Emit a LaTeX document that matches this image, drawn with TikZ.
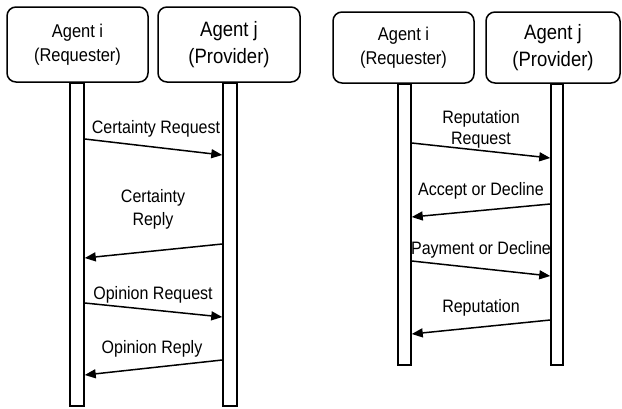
\documentclass[tikz,border=0pt]{standalone}
\usepackage{fontspec}
\setmainfont{Liberation Sans}[FakeStretch=0.89]
\usetikzlibrary{arrows.meta}
\begin{document}
\begin{tikzpicture}[x=1pt,y=-1pt,
 agent/.style={draw, line width=1.5pt, rounded corners=9pt, align=center, inner sep=0pt},
 req/.style={agent, font=\fontsize{18.5}{24}\selectfont},
 prov/.style={agent, font=\fontsize{20.8}{27}\selectfont},
 bar/.style={draw, line width=1.5pt, fill=white, inner sep=0pt},
 msg/.style={line width=1.5pt, -{Triangle[length=11pt,width=9pt]}},
 lbl/.style={font=\fontsize{18}{22}\selectfont, align=center, inner sep=0pt}]
\useasboundingbox (0,0) rectangle (622,408);

% ---------- left diagram ----------
\node[req, minimum width=141pt, minimum height=75pt] (ai) at (77.5,44.5) {Agent i\\(Requester)};
\node[prov, minimum width=142pt, minimum height=75pt] (aj) at (229,44.5) {Agent j\\(Provider)};
\node[bar, minimum width=14pt, minimum height=323pt, anchor=north] (li) at (77,82) {};
\node[bar, minimum width=14pt, minimum height=323pt, anchor=north] (lj) at (230,82) {};

\draw[msg] (li.east |- 0,139) -- (lj.west |- 0,155);
\node[lbl] (t1) at (156,129) {Certainty Request};
\draw[msg] (lj.west |- 0,244) -- (li.east |- 0,258);
\node[lbl, font=\fontsize{18}{23}\selectfont] (t2) at (153,209) {Certainty\\Reply};
\draw[msg] (li.east |- 0,303) -- (lj.west |- 0,317);
\node[lbl] (t3) at (153,295) {Opinion Request};
\draw[msg] (lj.west |- 0,360) -- (li.east |- 0,375);
\node[lbl] (t4) at (152,349) {Opinion Reply};

% ---------- right diagram ----------
\node[req, minimum width=141pt, minimum height=71pt] (bi) at (403.5,47.5) {Agent i\\(Requester)};
\node[prov, minimum width=134pt, minimum height=71pt] (bj) at (553,47.5) {Agent j\\(Provider)};
\node[bar, minimum width=13pt, minimum height=281pt, anchor=north] (ri) at (404.5,83) {};
\node[bar, minimum width=12pt, minimum height=281pt, anchor=north] (rj) at (557,83) {};

\draw[msg] (ri.east |- 0,143) -- (rj.west |- 0,158);
\node[lbl, font=\fontsize{18}{21}\selectfont] (u1) at (481,129.5) {Reputation\\Request};
\draw[msg] (rj.west |- 0,204) -- (ri.east |- 0,217);
\node[lbl] (u2) at (481,191) {Accept or Decline};
\draw[msg] (ri.east |- 0,261) -- (rj.west |- 0,276);
\node[lbl] (u3) at (481,250) {Payment or Decline};
\draw[msg] (rj.west |- 0,320) -- (ri.east |- 0,334);
\node[lbl] (u4) at (481,308) {Reputation};
\end{tikzpicture}
\end{document}
